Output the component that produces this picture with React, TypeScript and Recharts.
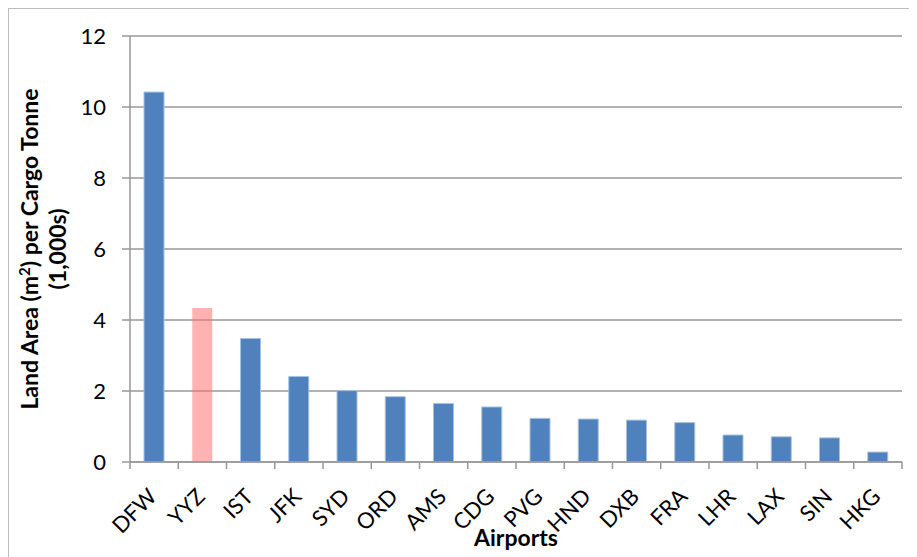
import { BarChart, Bar, XAxis, YAxis, CartesianGrid, Cell } from "recharts";

const airports = [
  "DFW", "YYZ", "IST", "JFK", "SYD", "ORD", "AMS", "CDG",
  "PVG", "HND", "DXB", "FRA", "LHR", "LAX", "SIN", "HKG",
];
const landArea = [
  10.42, 4.34, 3.48, 2.41, 2.01, 1.84, 1.65, 1.55,
  1.23, 1.21, 1.18, 1.11, 0.76, 0.71, 0.68, 0.28,
];
const highlighted = ["YYZ"];
const yTicks = [0, 2, 4, 6, 8, 10, 12];

const data = airports.map((code, i) => ({ code, value: landArea[i] }));

const font = "Lato, 'Open Sans', sans-serif";
const axisGray = "#989898";

function AirportTick(props: any) {
  const { x, y, payload, index } = props;
  const half = payload.offset ?? 24.1;
  const last = index === airports.length - 1;
  const ax = x + 4;
  const ay = y + 36;
  return (
    <g>
      <line x1={x - half} x2={x - half} y1={y} y2={y + 7} stroke={axisGray} strokeWidth={1.5} />
      {last && (
        <line x1={x + half} x2={x + half} y1={y} y2={y + 7} stroke={axisGray} strokeWidth={1.5} />
      )}
      <text
        x={ax}
        y={ay}
        transform={`rotate(-45, ${ax}, ${ay})`}
        textAnchor="end"
        fontSize={22}
        fontFamily={font}
        fill="#000"
      >
        {payload.value}
      </text>
    </g>
  );
}

function YTitle(props: any) {
  const { viewBox } = props;
  const cy = viewBox.y + viewBox.height / 2;
  const x1 = viewBox.x - 32;
  const x2 = viewBox.x - 4;
  return (
    <g fontFamily={font} fontWeight="bold" fontSize={23} fill="#000">
      <text x={x1} y={cy} textAnchor="middle" transform={`rotate(-90, ${x1}, ${cy})`}>
        Land Area (m<tspan dy={-8} fontSize={15}>2</tspan>
        <tspan dy={8}>) per Cargo Tonne</tspan>
      </text>
      <text x={x2} y={cy} textAnchor="middle" transform={`rotate(-90, ${x2}, ${cy})`}>
        (1,000s)
      </text>
    </g>
  );
}

export default function App() {
  return (
    <div
      style={{
        border: "1px solid #bdbdbd",
        width: 1000,
        height: 600,
        background: "#fff",
      }}
    >
      <style>{`body{overflow:hidden}`}</style>
      <BarChart
        width={900}
        height={548}
        data={data}
        margin={{ top: 27, right: 7, left: 61, bottom: 0 }}
        barSize={20}
      >
        <CartesianGrid vertical={false} stroke={axisGray} strokeWidth={1.5} />
        <YAxis
          width={60}
          domain={[0, 12]}
          ticks={yTicks}
          interval={0}
          axisLine={{ stroke: axisGray, strokeWidth: 1.5 }}
          tickLine={{ stroke: axisGray, strokeWidth: 1.5 }}
          tickSize={8}
          tickMargin={16}
          tick={{ fill: "#000", fontSize: 22, fontFamily: font }}
          label={{ content: <YTitle /> }}
        />
        <XAxis
          dataKey="code"
          height={95}
          interval={0}
          tickLine={false}
          tickSize={0}
          tickMargin={0}
          axisLine={{ stroke: axisGray, strokeWidth: 1.5 }}
          tick={<AirportTick />}
          label={{
            value: "Airports",
            position: "insideBottom",
            offset: 11,
            fontFamily: font,
            fontWeight: "bold",
            fontSize: 23,
            fill: "#000",
          }}
        />
        <Bar dataKey="value" isAnimationActive={false}>
          {data.map((d) =>
            highlighted.includes(d.code) ? (
              <Cell key={d.code} fill="#ff6b6b" fillOpacity={0.52} />
            ) : (
              <Cell key={d.code} fill="#4f81bd" stroke="#a9c1e0" strokeWidth={1} />
            )
          )}
        </Bar>
      </BarChart>
    </div>
  );
}
